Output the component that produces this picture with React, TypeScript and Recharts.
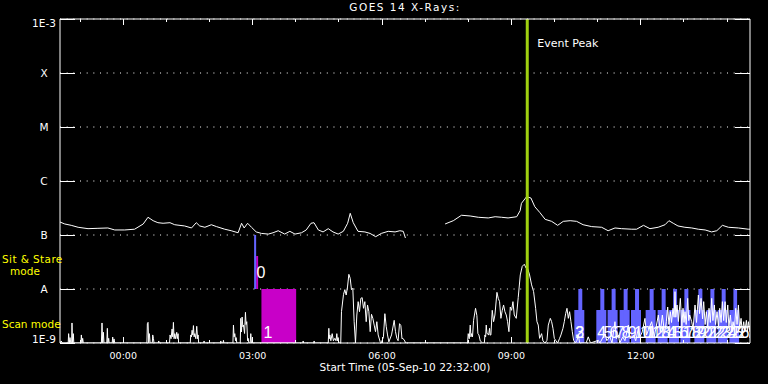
import React from "react";
import {
  ComposedChart,
  Line,
  XAxis,
  YAxis,
  CartesianGrid,
  ReferenceArea,
  ReferenceLine,
  Scatter,
} from "recharts";

const FONT = "DejaVu Sans, sans-serif";
const BLUE = "#6464ff";
const MAGENTA = "#c800c8";
const PEAK_GREEN = "#a0d010";

// time axis: hours after 05-Sep-10 22:32:00
const HOUR_TICKS = [
  0.467, 1.467, 2.467, 3.467, 4.467, 5.467, 6.467, 7.467, 8.467, 9.467, 10.467,
  11.467, 12.467, 13.467, 14.467, 15.467,
];
const MAJOR_TICKS = [1.467, 4.467, 7.467, 10.467, 13.467];
const MAJOR_LABELS = ["00:00", "03:00", "06:00", "09:00", "12:00"];

const FLUX_TICKS = [1e-9, 1e-8, 1e-7, 1e-6, 1e-5, 1e-4, 1e-3];
const FLUX_LABELS = ["1E-9", "A", "B", "C", "M", "X", "1E-3"];

const EVENT_PEAK = 10.835;

// GOES 14 1-8 A channel [hours, W/m^2], null = data gap
const LONG_CHANNEL: [number, number | null][] = [
  [0.0, 1.74e-7], [0.11, 1.6e-7], [0.26, 1.51e-7], [0.42, 1.39e-7], [0.65, 1.31e-7],
  [0.88, 1.33e-7], [1.11, 1.35e-7], [1.27, 1.24e-7], [1.5, 1.24e-7], [1.73, 1.28e-7],
  [1.93, 1.6e-7], [2.04, 2.13e-7], [2.16, 1.84e-7], [2.27, 1.69e-7], [2.39, 1.65e-7],
  [2.55, 1.69e-7], [2.66, 1.55e-7], [2.89, 1.47e-7], [3.05, 1.35e-7], [3.16, 1.69e-7],
  [3.24, 1.47e-7], [3.36, 1.39e-7], [3.51, 1.55e-7], [3.63, 1.43e-7], [3.82, 1.28e-7],
  [3.97, 1.2e-7], [4.13, 1.1e-7], [4.21, 1.65e-7], [4.27, 1.35e-7], [4.35, 1.65e-7],
  [4.44, 1.39e-7], [4.55, 1.14e-7], [4.67, 1.07e-7], [4.83, 1.04e-7], [4.94, 1.1e-7],
  [5.06, 1.2e-7], [5.21, 1.04e-7], [5.33, 1.17e-7], [5.45, 1.04e-7], [5.6, 1.1e-7],
  [5.71, 1.24e-7], [5.82, 1.65e-7], [5.89, 1.69e-7], [5.99, 1.24e-7], [6.1, 1.14e-7],
  [6.22, 1.31e-7], [6.33, 1.14e-7], [6.45, 1.04e-7], [6.57, 1.17e-7], [6.67, 1.65e-7],
  [6.73, 2.52e-7], [6.8, 1.69e-7], [6.91, 1.17e-7], [7.07, 1.14e-7], [7.19, 1.07e-7],
  [7.32, 0.93e-7], [7.45, 1.07e-7], [7.61, 1.17e-7], [7.77, 1.14e-7], [7.88, 1.2e-7],
  [7.96, 1.17e-7], [8.01, 0.88e-7], [8.4, null],
  [8.93, 1.6e-7], [9.12, 1.84e-7], [9.31, 2.32e-7], [9.51, 2.25e-7], [9.7, 2.13e-7],
  [9.93, 2.07e-7], [10.09, 2.18e-7], [10.24, 2.13e-7], [10.39, 2.07e-7], [10.59, 2.18e-7],
  [10.67, 2.82e-7], [10.7, 3.86e-7], [10.82, 5.12e-7], [10.92, 4.84e-7], [11.01, 3.34e-7],
  [11.13, 2.59e-7], [11.25, 1.95e-7], [11.4, 1.79e-7], [11.54, 1.51e-7], [11.67, 1.79e-7],
  [11.83, 1.84e-7], [11.98, 1.79e-7], [12.13, 1.55e-7], [12.33, 1.43e-7], [12.56, 1.39e-7],
  [12.71, 1.2e-7], [12.87, 1.35e-7], [13.02, 1.31e-7], [13.26, 1.28e-7], [13.37, 1.28e-7],
  [13.53, 1.51e-7], [13.68, 1.31e-7], [13.87, 1.39e-7], [14.03, 1.55e-7], [14.12, 1.84e-7],
  [14.22, 1.65e-7], [14.33, 1.47e-7], [14.49, 1.39e-7], [14.65, 1.35e-7], [14.8, 1.28e-7],
  [14.96, 1.24e-7], [15.11, 1.14e-7], [15.23, 1.2e-7], [15.36, 1.51e-7], [15.5, 1.39e-7],
  [15.73, 1.35e-7], [15.96, 1.28e-7], [16.0, 1.28e-7],
];

// GOES 14 0.5-4 A channel [hours, W/m^2]
const SHORT_CHANNEL: [number, number][] = [
  [0.0, 1.0e-9], [0.03, 1.09e-9], [0.05, 1.0e-9], [0.19, 1.0e-9], [0.2, 1.49e-9], [0.215, 1.0e-9],
  [0.232, 1.26e-9], [0.25, 1.0e-9], [0.27, 1.0e-9], [0.278, 2.35e-9], [0.29, 1.0e-9], [0.309, 1.49e-9],
  [0.32, 1.0e-9], [0.485, 1.0e-9], [0.495, 1.41e-9], [0.51, 1.0e-9], [0.526, 1.22e-9], [0.54, 1.0e-9],
  [0.96, 1.0e-9], [0.974, 2.35e-9], [0.99, 1.0e-9], [1.006, 1.58e-9], [1.02, 1.0e-9], [1.085, 1.0e-9],
  [1.098, 1.87e-9], [1.11, 1.0e-9], [1.129, 1.22e-9], [1.14, 1.0e-9], [1.21, 1.0e-9], [1.222, 1.29e-9],
  [1.235, 1.0e-9], [1.253, 1.19e-9], [1.27, 1.0e-9], [2.015, 1.0e-9], [2.026, 2.28e-9], [2.042, 2.41e-9],
  [2.057, 1.0e-9], [2.073, 1.49e-9], [2.09, 1.0e-9], [2.14, 1.0e-9], [2.15, 1.41e-9], [2.166, 1.22e-9],
  [2.18, 1.0e-9], [2.28, 1.0e-9], [2.289, 1.09e-9], [2.3, 1.0e-9], [2.54, 1.0e-9], [2.552, 1.41e-9],
  [2.575, 1.2e-9], [2.599, 1.82e-9], [2.615, 1.3e-9], [2.63, 2.41e-9], [2.645, 1.2e-9], [2.661, 1.49e-9],
  [2.68, 1.2e-9], [2.707, 1.58e-9], [2.72, 1.2e-9], [2.738, 1.49e-9], [2.75, 1.0e-9], [3.02, 1.0e-9],
  [3.032, 1.41e-9], [3.048, 1.3e-9], [3.063, 1.72e-9], [3.08, 1.4e-9], [3.094, 2.1e-9], [3.11, 1.3e-9],
  [3.125, 1.49e-9], [3.15, 1.2e-9], [3.171, 2.04e-9], [3.19, 1.2e-9], [3.202, 1.41e-9], [3.215, 1.0e-9],
  [3.33, 1.0e-9], [3.341, 1.09e-9], [3.35, 1.0e-9], [3.72, 1.0e-9], [3.728, 1.09e-9], [3.74, 1.0e-9],
  [3.78, 1.0e-9], [3.79, 1.12e-9], [3.8, 1.0e-9], [4.01, 1.0e-9], [4.022, 2.15e-9], [4.038, 1.3e-9],
  [4.053, 1.49e-9], [4.07, 1.1e-9], [4.084, 1.26e-9], [4.1, 1.0e-9], [4.18, 1.0e-9], [4.192, 2.86e-9],
  [4.208, 1.6e-9], [4.223, 3.03e-9], [4.24, 2.0e-9], [4.254, 2.15e-9], [4.28, 1.5e-9], [4.3, 3.7e-9],
  [4.315, 2.2e-9], [4.331, 2.48e-9], [4.35, 1.1e-9], [4.362, 1.22e-9], [4.38, 1.0e-9], [4.41, 1.0e-9],
  [4.424, 1.49e-9], [4.44, 1.0e-9], [5.63, 1.0e-9], [5.638, 1.09e-9], [5.65, 1.0e-9], [5.885, 1.0e-9],
  [5.893, 1.09e-9], [5.9, 1.0e-9], [6.22, 1.0e-9], [6.234, 1.87e-9], [6.245, 1.2e-9], [6.257, 1.41e-9],
  [6.28, 1.1e-9], [6.311, 1.49e-9], [6.34, 1.1e-9], [6.373, 1.22e-9], [6.4, 1.1e-9], [6.419, 1.49e-9],
  [6.435, 1.1e-9], [6.45, 1.26e-9], [6.465, 1.0e-9], [6.51, 1.0e-9], [6.527, 3.8e-9], [6.574, 7.96e-9],
  [6.605, 9.72e-9], [6.636, 7.74e-9], [6.667, 1.09e-8], [6.698, 1.87e-8], [6.729, 1.58e-8], [6.759, 9.72e-9],
  [6.79, 1.03e-8], [6.821, 2.48e-9], [6.852, 1.0e-9], [6.883, 3.3e-9], [6.914, 5.83e-9], [6.945, 3.8e-9],
  [6.976, 6.71e-9], [7.007, 6.91e-9], [7.038, 4.39e-9], [7.069, 5.83e-9], [7.1, 2.48e-9], [7.131, 5.06e-9],
  [7.162, 3.8e-9], [7.193, 1.62e-9], [7.223, 3.4e-9], [7.254, 2.86e-9], [7.285, 2.15e-9], [7.316, 1.62e-9],
  [7.347, 2.48e-9], [7.378, 1.41e-9], [7.425, 1.05e-9], [7.45, 1.0e-9], [7.5, 1.3e-9], [7.533, 3.49e-9],
  [7.564, 2.04e-9], [7.595, 1.41e-9], [7.626, 1.05e-9], [7.688, 1.41e-9], [7.749, 2.63e-9], [7.78, 1.62e-9],
  [7.811, 1.22e-9], [7.84, 1.1e-9], [7.873, 2.28e-9], [7.904, 2.1e-9], [7.93, 1.2e-9], [7.95, 1.22e-9],
  [7.997, 1.09e-9], [8.01, 1.0e-9], [9.45, 1.0e-9], [9.466, 1.49e-9], [9.49, 1.2e-9], [9.513, 2.15e-9],
  [9.53, 1.3e-9], [9.544, 1.49e-9], [9.565, 1.3e-9], [9.59, 2.63e-9], [9.636, 4.39e-9], [9.667, 3.21e-9],
  [9.69, 1.5e-9], [9.714, 1.41e-9], [9.745, 1.09e-9], [9.8, 1.0e-9], [9.84, 1.0e-9], [9.853, 1.41e-9],
  [9.87, 1.3e-9], [9.884, 2.15e-9], [9.9, 1.5e-9], [9.915, 1.49e-9], [9.94, 1.4e-9], [9.961, 1.87e-9],
  [9.975, 1.4e-9], [9.992, 1.41e-9], [10.023, 4.03e-9], [10.054, 2.48e-9], [10.085, 3.3e-9], [10.132, 8.67e-9],
  [10.162, 6.71e-9], [10.193, 5.83e-9], [10.224, 2.86e-9], [10.255, 4.03e-9], [10.286, 5.06e-9], [10.317, 3.8e-9],
  [10.348, 3.3e-9], [10.379, 2.48e-9], [10.41, 1.62e-9], [10.441, 4.64e-9], [10.472, 4.03e-9], [10.503, 5.83e-9],
  [10.534, 3.3e-9], [10.58, 2.86e-9], [10.626, 7.0e-9], [10.673, 1.82e-8], [10.719, 2.63e-8], [10.766, 2.87e-8],
  [10.812, 2.41e-8], [10.843, 2.41e-8], [10.889, 1.82e-8], [10.936, 1.19e-8], [10.982, 8.93e-9], [11.029, 4.39e-9],
  [11.06, 2.48e-9], [11.09, 2.15e-9], [11.121, 1.22e-9], [11.168, 1.49e-9], [11.199, 1.09e-9], [11.25, 1.0e-9],
  [11.292, 1.12e-9], [11.323, 2.15e-9], [11.369, 2.86e-9], [11.4, 2.48e-9], [11.431, 1.87e-9], [11.462, 1.22e-9],
  [11.493, 1.12e-9], [11.54, 1.0e-9], [11.585, 1.22e-9], [11.616, 1.41e-9], [11.663, 1.87e-9], [11.694, 2.48e-9],
  [11.725, 3.49e-9], [11.756, 4.39e-9], [11.787, 2.86e-9], [11.817, 3.8e-9], [11.848, 2.48e-9], [11.879, 1.62e-9],
  [11.91, 1.12e-9], [11.95, 1.0e-9], [11.988, 1.12e-9], [12.019, 1.41e-9], [12.05, 1.0e-9], [12.2, 1.0e-9],
  [12.25, 1.3e-9], [12.3, 1.0e-9], [12.483, 1.12e-9], [12.52, 1.0e-9], [12.637, 1.49e-9], [12.68, 1.1e-9],
  [12.75, 1.3e-9], [12.8, 1.0e-9], [12.869, 2.48e-9], [12.9, 1.2e-9], [12.947, 1.41e-9], [12.98, 1.0e-9],
  [13.05, 1.3e-9], [13.1, 1.1e-9], [13.179, 2.15e-9], [13.22, 1.2e-9], [13.3, 1.4e-9], [13.35, 1.1e-9],
  [13.411, 1.87e-9], [13.45, 1.3e-9], [13.5, 1.6e-9], [13.565, 2.86e-9], [13.6, 1.4e-9], [13.65, 1.8e-9],
  [13.72, 2.48e-9], [13.78, 1.3e-9], [13.875, 3.3e-9], [13.92, 1.6e-9], [13.968, 3.3e-9], [14.02, 1.5e-9],
  [14.06, 2.5e-9], [14.091, 4.64e-9], [14.12, 2.2e-9], [14.153, 3.8e-9], [14.18, 2.4e-9], [14.215, 4.39e-9],
  [14.24, 3.0e-9], [14.261, 8.93e-9], [14.28, 3.0e-9], [14.308, 5.06e-9], [14.34, 2.5e-9], [14.385, 6.71e-9],
  [14.42, 2.0e-9], [14.447, 4.39e-9], [14.47, 2.4e-9], [14.493, 3.8e-9], [14.52, 2.2e-9], [14.555, 6.71e-9],
  [14.58, 2.6e-9], [14.601, 3.3e-9], [14.648, 2.48e-9], [14.68, 1.8e-9], [14.725, 5.06e-9], [14.76, 2.4e-9],
  [14.803, 7.74e-9], [14.83, 3.5e-9], [14.865, 6.71e-9], [14.9, 2.8e-9], [14.926, 5.83e-9], [14.96, 2.2e-9],
  [14.988, 3.8e-9], [15.02, 2.0e-9], [15.05, 4.39e-9], [15.08, 2.4e-9], [15.112, 6.71e-9], [15.14, 2.6e-9],
  [15.174, 5.06e-9], [15.2, 2.2e-9], [15.236, 3.8e-9], [15.27, 2.0e-9], [15.298, 4.39e-9], [15.33, 2.4e-9],
  [15.36, 5.83e-9], [15.39, 2.6e-9], [15.422, 5.83e-9], [15.45, 2.4e-9], [15.484, 5.06e-9], [15.51, 2.0e-9],
  [15.545, 3.3e-9], [15.58, 1.6e-9], [15.607, 2.48e-9], [15.64, 1.8e-9], [15.669, 4.39e-9], [15.7, 2.2e-9],
  [15.731, 5.06e-9], [15.76, 1.8e-9], [15.793, 2.86e-9], [15.82, 1.6e-9], [15.855, 2.48e-9], [15.88, 1.6e-9],
  [15.916, 2.63e-9], [15.94, 1.6e-9], [15.963, 2.48e-9], [16.0, 1.6e-9],
];

// EIS rasters [start h, end h, low flux, high flux]
const MAGENTA_RASTERS: [number, number, number, number][] = [
  [4.548, 4.594, 1e-8, 4.08e-8],
  [4.671, 5.476, 1e-9, 1e-8],
];
const BLUE_RASTERS: [number, number, number, number][] = [
  [4.501, 4.548, 1e-8, 1e-7],
  [11.926, 12.158, 1e-9, 4.08e-9], [12.019, 12.111, 1e-9, 1e-8],
  [12.436, 12.668, 1e-9, 4.08e-9], [12.529, 12.622, 1e-9, 1e-8],
  [12.698, 12.93, 1e-9, 4.08e-9], [12.791, 12.884, 1e-9, 1e-8],
  [12.977, 13.209, 1e-9, 4.08e-9], [13.07, 13.162, 1e-9, 1e-8],
  [13.241, 13.473, 1e-9, 4.08e-9], [13.334, 13.427, 1e-9, 1e-8],
  [13.58, 13.812, 1e-9, 4.08e-9], [13.673, 13.766, 1e-9, 1e-8],
  [13.858, 14.09, 1e-9, 4.08e-9], [13.951, 14.044, 1e-9, 1e-8],
  [14.123, 14.355, 1e-9, 4.08e-9], [14.216, 14.309, 1e-9, 1e-8],
  [14.385, 14.617, 1e-9, 4.08e-9], [14.478, 14.571, 1e-9, 1e-8],
  [14.71, 14.942, 1e-9, 4.08e-9], [14.803, 14.896, 1e-9, 1e-8],
  [14.988, 15.22, 1e-9, 4.08e-9], [15.081, 15.174, 1e-9, 1e-8],
  [15.251, 15.483, 1e-9, 4.08e-9], [15.343, 15.436, 1e-9, 1e-8],
  [15.522, 15.747, 1e-9, 4.08e-9], [15.615, 15.701, 1e-9, 1e-8],
];

// raster numbers [start h, flux level of label, text]
const RASTER_LABELS: [number, number, string][] = [
  [4.555, 2.07e-8, "0"], [4.72, 1.56e-9, "1"],
  [11.95, 1.56e-9, "2"], [11.95, 1.56e-9, "3"],
  [12.459, 1.56e-9, "4"], [12.601, 1.56e-9, "5"], [12.742, 1.56e-9, "6"], [12.884, 1.56e-9, "7"],
  [13.025, 1.56e-9, "8"], [13.167, 1.56e-9, "9"], [13.309, 1.56e-9, "10"], [13.45, 1.56e-9, "11"],
  [13.592, 1.56e-9, "12"], [13.733, 1.56e-9, "13"], [13.875, 1.56e-9, "14"], [14.016, 1.56e-9, "15"],
  [14.158, 1.56e-9, "16"], [14.3, 1.56e-9, "17"], [14.441, 1.56e-9, "18"], [14.583, 1.56e-9, "19"],
  [14.724, 1.56e-9, "20"], [14.866, 1.56e-9, "21"], [15.007, 1.56e-9, "22"], [15.149, 1.56e-9, "23"],
  [15.29, 1.56e-9, "24"], [15.432, 1.56e-9, "25"], [15.573, 1.56e-9, "26"], [15.715, 1.56e-9, "27"],
];

const longData = LONG_CHANNEL.map(([t, v]) => ({ t, v }));
const shortData = SHORT_CHANNEL.map(([t, v]) => ({ t, v }));
const labelData = RASTER_LABELS.map(([t, v, text]) => ({ t, v, text }));

const near = (a: number, b: number) => Math.abs(a - b) < 1e-3 * Math.max(Math.abs(a), Math.abs(b));

function BottomTick({ x, y, payload }: any) {
  const i = MAJOR_TICKS.findIndex((m) => near(m, payload.value));
  const len = i >= 0 ? 6 : 3;
  return (
    <g>
      <line x1={x} x2={x} y1={y} y2={y - len} stroke="#fff" shapeRendering="crispEdges" />
      {i >= 0 && (
        <text x={x} y={y + 16} fill="#fff" fontSize={9.5} textAnchor="middle" fontFamily={FONT}>
          {MAJOR_LABELS[i]}
        </text>
      )}
    </g>
  );
}

function TopTick({ x, y, payload }: any) {
  const major = MAJOR_TICKS.some((m) => near(m, payload.value));
  return <line x1={x} x2={x} y1={y} y2={y + (major ? 6 : 3)} stroke="#fff" shapeRendering="crispEdges" />;
}

function LeftTick({ x, y, payload }: any) {
  const i = FLUX_TICKS.findIndex((f) => near(f, payload.value));
  const dy = i === FLUX_TICKS.length - 1 ? 7.7 : i === 0 ? 0 : 3.8;
  return (
    <g>
      <line x1={x} x2={x + 15} y1={y} y2={y} stroke="#fff" shapeRendering="crispEdges" />
      <text x={x - 16} y={y + dy} fill="#fff" fontSize={10.5} textAnchor="middle" fontFamily={FONT}>
        {FLUX_LABELS[i]}
      </text>
    </g>
  );
}

function RightTick({ x, y }: any) {
  return <line x1={x} x2={x - 15} y1={y} y2={y} stroke="#fff" shapeRendering="crispEdges" />;
}

function RasterLabel(props: any) {
  const { cx, cy, payload } = props;
  return (
    <text x={cx} y={cy + 5.8} fill="#fff" fontSize={16} fontFamily="Liberation Sans, sans-serif">
      {payload.text}
    </text>
  );
}

export default function App() {
  return (
    <div style={{ position: "relative", width: 768, height: 384, background: "#000" }}>
      <style>{`body{margin:0;background:#000}`}</style>
      <ComposedChart width={768} height={384} margin={{ top: 0, right: 0, bottom: 0, left: 0 }}>
        <CartesianGrid vertical={false} stroke="#fff" strokeDasharray="1 5.67" />
        <XAxis
          dataKey="t"
          type="number"
          domain={[0, 16]}
          allowDataOverflow
          ticks={HOUR_TICKS}
          interval={0}
          height={41}
          axisLine={{ stroke: "#fff" }}
          tickLine={false}
          tickSize={0}
          tickMargin={0}
          tick={(p: any) => <BottomTick {...p} />}
        />
        <XAxis
          xAxisId="top"
          orientation="top"
          dataKey="t"
          type="number"
          domain={[0, 16]}
          allowDataOverflow
          ticks={HOUR_TICKS}
          interval={0}
          height={19}
          axisLine={{ stroke: "#fff" }}
          tickLine={false}
          tickSize={0}
          tickMargin={0}
          tick={(p: any) => <TopTick {...p} />}
        />
        <YAxis
          dataKey="v"
          type="number"
          scale="log"
          domain={[1e-9, 1e-3]}
          allowDataOverflow
          ticks={FLUX_TICKS}
          interval={0}
          width={60}
          axisLine={{ stroke: "#fff" }}
          tickLine={false}
          tickSize={0}
          tickMargin={0}
          tick={(p: any) => <LeftTick {...p} />}
        />
        <YAxis
          yAxisId="right"
          orientation="right"
          dataKey="v"
          type="number"
          scale="log"
          domain={[1e-9, 1e-3]}
          allowDataOverflow
          ticks={FLUX_TICKS}
          interval={0}
          width={18}
          axisLine={{ stroke: "#fff" }}
          tickLine={false}
          tickSize={0}
          tickMargin={0}
          tick={(p: any) => <RightTick {...p} />}
        />
        {MAGENTA_RASTERS.map(([x1, x2, y1, y2], i) => (
          <ReferenceArea key={"m" + i} x1={x1} x2={x2} y1={y1} y2={y2} fill={MAGENTA} fillOpacity={1} stroke="none" />
        ))}
        {BLUE_RASTERS.map(([x1, x2, y1, y2], i) => (
          <ReferenceArea key={"b" + i} x1={x1} x2={x2} y1={y1} y2={y2} fill={BLUE} fillOpacity={1} stroke="none" />
        ))}
        <Line data={longData} dataKey="v" type="linear" stroke="#fff" strokeWidth={1} dot={false} isAnimationActive={false} />
        <Line data={shortData} dataKey="v" type="linear" stroke="#fff" strokeWidth={1} dot={false} isAnimationActive={false} />
        <Scatter data={labelData} dataKey="v" shape={(p: any) => <RasterLabel {...p} />} isAnimationActive={false} />
        <ReferenceLine
          x={EVENT_PEAK}
          stroke={PEAK_GREEN}
          strokeWidth={3}
          label={(p: any) => (
            <text x={p.viewBox.x + 10} y={p.viewBox.y + 28} fill="#fff" fontSize={11} fontFamily={FONT}>
              Event Peak
            </text>
          )}
        />
      </ComposedChart>
      <svg width={768} height={384} style={{ position: "absolute", left: 0, top: 0, pointerEvents: "none" }}>
        <text x={405} y={11} fill="#fff" fontSize={10.5} letterSpacing={1.5} textAnchor="middle" fontFamily={FONT}>
          GOES 14 X-Rays:
        </text>
        <text x={405} y={371} fill="#fff" fontSize={10.5} textAnchor="middle" fontFamily={FONT}>
          Start Time (05-Sep-10 22:32:00)
        </text>
        <text x={2} y={263} fill="#ffff00" fontSize={10.5} letterSpacing={0.4} fontFamily={FONT}>
          Sit &amp; Stare
        </text>
        <text x={25} y={275} fill="#ffff00" fontSize={10.5} textAnchor="middle" fontFamily={FONT}>
          mode
        </text>
        <text x={2} y={328} fill="#ffff00" fontSize={10.5} fontFamily={FONT}>
          Scan mode
        </text>
      </svg>
    </div>
  );
}
